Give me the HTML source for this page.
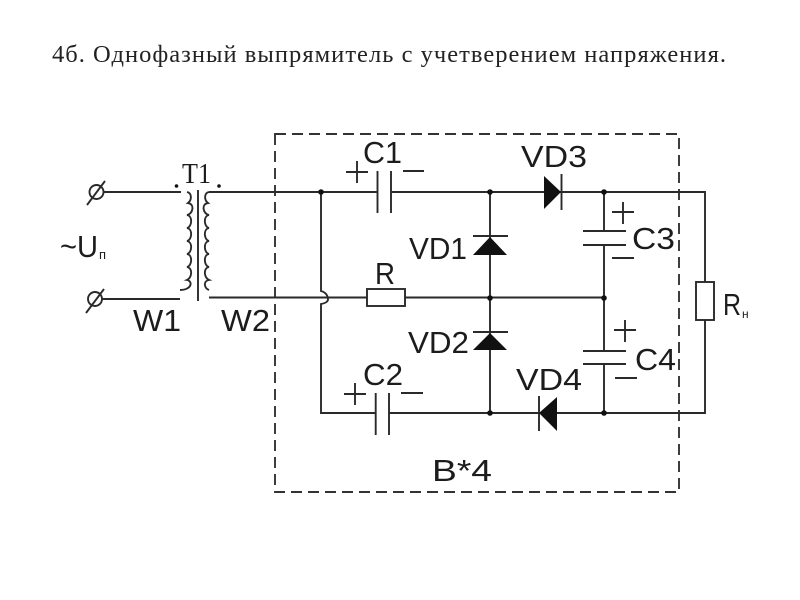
<!DOCTYPE html>
<html><head><meta charset="utf-8"><style>
html,body{margin:0;padding:0;background:#fff}
svg{display:block}
.w{stroke:#2a2a2a;stroke-width:1.9;fill:none}
.d{fill:#111}
.s{font-family:"Liberation Sans",sans-serif;fill:#1c1c1c;font-size:31px}
</style></head><body>
<svg width="800" height="600" viewBox="0 0 800 600" xmlns="http://www.w3.org/2000/svg">
<rect width="800" height="600" fill="#fff"/>
<text x="52" y="62" font-family="'Liberation Serif',serif" font-size="24.500" fill="#222" textLength="674" lengthAdjust="spacing">4б. Однофазный выпрямитель с учетверением напряжения.</text>
<rect x="275" y="134" width="404" height="358" fill="none" stroke="#333" stroke-width="1.9" stroke-dasharray="11 6"/>
<path class="w" d="M103 192H181M209 192H377M391 192H705V282M705 320V413H539M557 413H389M376 413H321V304Q327 303 328 300Q328 293 321 291V192"/>
<path class="w" d="M102 299H180M209 297.500H367M405 297.500H604"/>
<circle class="w" cx="96.500" cy="192" r="7"/><circle class="w" cx="95" cy="299" r="7"/>
<path class="w" d="M87 205L105 181M86 313L104 289"/>
<path class="w" d="M198 190V301"/>
<path class="w" d="M187 192c5 1 5 8 1 11c7 1 5 11 -1 12c6 1 5 12 0 13c6 1 5 12 0 13c6 1 5 12 0 13c6 1 5 12 0 13c6 1 5 11 0 13c6 1 5 10 -7 10"/>
<path class="w" d="M209 192c-5 1 -5 8 -1 11c-7 1 -5 11 1 12c-6 1 -5 12 0 13c-6 1 -5 12 0 13c-6 1 -5 12 0 13c-6 1 -5 12 0 13c-6 1 -5 11 0 13c-6 1 -5 8 0 10"/>
<circle class="d" cx="176.500" cy="186" r="1.800"/><circle class="d" cx="219" cy="186" r="1.800"/>
<path class="w" d="M377.500 171V213M391 171V213M375.700 393V435M389 393V435"/>
<path class="w" d="M346 172H368M357 161V183M403 171H424M344 394H366M355 383V405M401 393H423"/>
<rect class="w" x="367" y="289" width="38" height="17" fill="#fff"/>
<rect class="w" x="696" y="282" width="18" height="38"/>
<path class="w" d="M490 192V413M604 192V231M604 245V351M604 364V413"/>
<path class="w" d="M473 236H508M473 332H508M561.500 174V210M539 396V431"/>
<path class="d" d="M490 237L507 255H473ZM490 333L507 350H473ZM561 192L544 176V209ZM539 413L557 397V431Z"/>
<path class="w" d="M583 231H626M583 245H626M583 351H626M583 364H626"/>
<path class="w" d="M612 212H634M623 202V224M612 258H634M614 330H636M625 320V342M615 378H637"/>
<g class="d"><circle cx="321" cy="192" r="2.800"/><circle cx="490" cy="192" r="2.800"/><circle cx="604" cy="192" r="2.800"/><circle cx="490" cy="298" r="2.800"/><circle cx="604" cy="298" r="2.800"/><circle cx="490" cy="413" r="2.800"/><circle cx="604" cy="413" r="2.800"/></g>
<g class="s">
<text x="182" y="183" textLength="29" lengthAdjust="spacingAndGlyphs" font-size="29" style="font-family:'Liberation Serif',serif">T1</text>
<text x="133" y="331" textLength="48" lengthAdjust="spacingAndGlyphs">W1</text>
<text x="221" y="331" textLength="49" lengthAdjust="spacingAndGlyphs">W2</text>
<text x="60" y="257" textLength="38" lengthAdjust="spacingAndGlyphs">~U</text>
<text x="99" y="259" font-size="13" textLength="9">п</text>
<text x="363" y="163" textLength="39" lengthAdjust="spacingAndGlyphs">C1</text>
<text x="363" y="385" textLength="40" lengthAdjust="spacingAndGlyphs">C2</text>
<text x="632" y="249" textLength="43" lengthAdjust="spacingAndGlyphs">C3</text>
<text x="635" y="370" textLength="41" lengthAdjust="spacingAndGlyphs">C4</text>
<text x="375" y="284" textLength="20" lengthAdjust="spacingAndGlyphs">R</text>
<text x="409" y="259" textLength="58" lengthAdjust="spacingAndGlyphs">VD1</text>
<text x="408" y="353" textLength="61" lengthAdjust="spacingAndGlyphs">VD2</text>
<text x="521" y="167" textLength="66" lengthAdjust="spacingAndGlyphs">VD3</text>
<text x="516" y="390" textLength="66" lengthAdjust="spacingAndGlyphs">VD4</text>
<text x="432" y="481" textLength="60" lengthAdjust="spacingAndGlyphs">B*4</text>
<text x="723" y="315" textLength="18" lengthAdjust="spacingAndGlyphs">R</text>
<text x="742" y="318" font-size="12" textLength="9">н</text>
</g>
</svg>
</body></html>
